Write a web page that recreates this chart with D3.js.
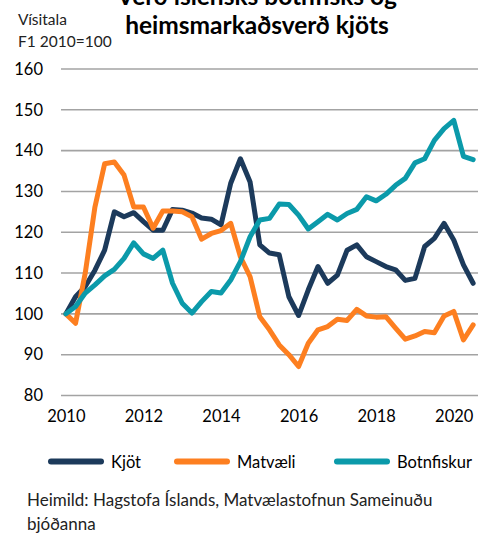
<!DOCTYPE html>
<html>
<head>
<meta charset="utf-8">
<script src="https://cdn.jsdelivr.net/npm/d3@7"></script>
<style>
  html, body { margin: 0; padding: 0; background: #fff; }
  svg { display: block; font-family: Lato, "Noto Sans", sans-serif; }
</style>
</head>
<body>
<div id="chart"></div>
<script>
// Quarterly index, Q1 2010 = 100
const years = ['2010', '2011', '2012', '2013', '2014', '2015', '2016', '2017', '2018', '2019', '2020'];
const quarterNames = ['Q1', 'Q2', 'Q3', 'Q4'];
const quarters = years.flatMap((y) => quarterNames.map((q) => y + q)).slice(0, 43);

const kjot = [100, 104.2, 106.7, 110.7, 115.6, 125, 123.8, 124.8, 122.6, 120.5,
  120.5, 125.6, 125.4, 124.7, 123.5, 123.2, 121.8, 132, 138, 132.3,
  116.9, 114.9, 114.5, 104.2, 99.6, 105.9, 111.6, 107.5, 109.5, 115.6,
  116.9, 114, 112.8, 111.6, 110.8, 108.2, 108.7, 116.5, 118.5, 122.2,
  118.1, 112, 107.5];
const matvaeli = [100, 97.7, 110, 126.2, 136.8, 137.2, 134, 126.2, 126.2, 121,
  125.2, 125.2, 125, 123.8, 118.3, 119.7, 120.4, 122.2, 114, 109.1,
  99.3, 96.1, 92.4, 90, 87.1, 92.8, 96.1, 96.9, 98.7, 98.4,
  101.1, 99.5, 99.2, 99.3, 96.5, 93.8, 94.6, 95.7, 95.4, 99.5,
  100.6, 93.6, 97.3];
const botnfiskur = [100, 101.8, 105.1, 107.1, 109.3, 110.9, 113.6, 117.4, 114.7, 113.6,
  115.6, 107.5, 102.6, 100.2, 103, 105.5, 105.1, 108.3, 112.8, 118.9,
  123, 123.4, 126.9, 126.8, 124.2, 120.8, 122.6, 124.4, 123, 124.6,
  125.6, 128.7, 127.7, 129.3, 131.5, 133.2, 137, 138, 142.5, 145.4,
  147.4, 138.6, 137.8];

const seriesNames = ['Kjöt', 'Matvæli', 'Botnfiskur'];
const seriesColors = ['#1c3a5b', '#fd7f20', '#0b9aaa'];
const xTickLabels = ['2010', '2012', '2014', '2016', '2018', '2020'];
const yTicks = [80, 90, 100, 110, 120, 130, 140, 150, 160];

const titleLines = ['Verð íslensks botnfisks og', 'heimsmarkaðsverð kjöts'];
const unitLines = ['Vísitala', 'F1 2010=100'];
const sourceLines = ['Heimild: Hagstofa Íslands, Matvælastofnun Sameinuðu', 'bjóðanna'];

const width = 485;
const height = 534;
const fontSize = 16.5;

const svg = d3.select('#chart')
  .append('svg')
  .attr('width', width)
  .attr('height', height);

const x = d3.scalePoint().domain(quarters).range([61, 478]).padding(0.5);
const y = d3.scaleLinear().domain([80, 160]).range([395.5, 69]);

// Title (first line runs off the top edge, as in the original)
svg.append('text')
  .attr('x', 257)
  .attr('text-anchor', 'middle')
  .attr('font-size', 24.5)
  .attr('font-weight', 'bold')
  .attr('fill', '#000')
  .selectAll('tspan')
  .data(titleLines)
  .join('tspan')
  .attr('x', 257)
  .attr('y', (d, i) => 5 + i * 29.3)
  .text((d) => d);

// Unit label
svg.append('g')
  .selectAll('text')
  .data(unitLines)
  .join('text')
  .attr('x', 18)
  .attr('y', (d, i) => 25 + i * 22)
  .attr('font-size', 15.5)
  .attr('fill', '#222')
  .text((d) => d);

// Gridlines + y labels
const yAxis = svg.append('g')
  .attr('transform', 'translate(43,0)')
  .call(d3.axisLeft(y).tickValues(yTicks).tickSize(0).tickPadding(0));
yAxis.select('.domain').remove();
yAxis.selectAll('text')
  .attr('font-size', fontSize)
  .attr('font-family', 'Lato, sans-serif')
  .attr('fill', '#000');

svg.append('g')
  .selectAll('line')
  .data(yTicks)
  .join('line')
  .attr('x1', 61)
  .attr('x2', 478)
  .attr('y1', (d) => y(d))
  .attr('y2', (d) => y(d))
  .attr('stroke', '#a3a3a3')
  .attr('stroke-width', 1.6);

// x labels
const xAxis = svg.append('g')
  .attr('transform', 'translate(0,410)')
  .call(d3.axisBottom(x)
    .tickValues(xTickLabels.map((yr) => yr + 'Q1'))
    .tickFormat((d) => d.slice(0, 4))
    .tickSize(0)
    .tickPadding(0));
xAxis.select('.domain').remove();
xAxis.selectAll('text')
  .attr('font-size', fontSize)
  .attr('font-family', 'Lato, sans-serif')
  .attr('fill', '#000');

// Lines
const seriesData = [kjot, matvaeli, botnfiskur];
const line = d3.line()
  .x((d, i) => x(quarters[i]))
  .y((d) => y(d));

svg.append('g')
  .selectAll('path')
  .data(seriesData)
  .join('path')
  .attr('d', line)
  .attr('fill', 'none')
  .attr('stroke', (d, i) => seriesColors[i])
  .attr('stroke-width', 5)
  .attr('stroke-linejoin', 'round')
  .attr('stroke-linecap', 'round');

// Legend
const legendX = [49, 175, 335];
const legend = svg.append('g')
  .selectAll('g')
  .data(seriesNames)
  .join('g')
  .attr('transform', (d, i) => `translate(${legendX[i]},461.5)`);
legend.append('line')
  .attr('x1', 2)
  .attr('x2', 52)
  .attr('stroke', (d, i) => seriesColors[i])
  .attr('stroke-width', 6)
  .attr('stroke-linecap', 'round');
legend.append('text')
  .attr('x', 62)
  .attr('y', 6)
  .attr('font-size', fontSize)
  .attr('fill', '#000')
  .text((d) => d);

// Source
svg.append('g')
  .selectAll('text')
  .data(sourceLines)
  .join('text')
  .attr('x', 27)
  .attr('y', (d, i) => 506 + i * 23.5)
  .attr('font-size', 17)
  .attr('fill', '#222')
  .text((d) => d);
</script>
</body>
</html>
